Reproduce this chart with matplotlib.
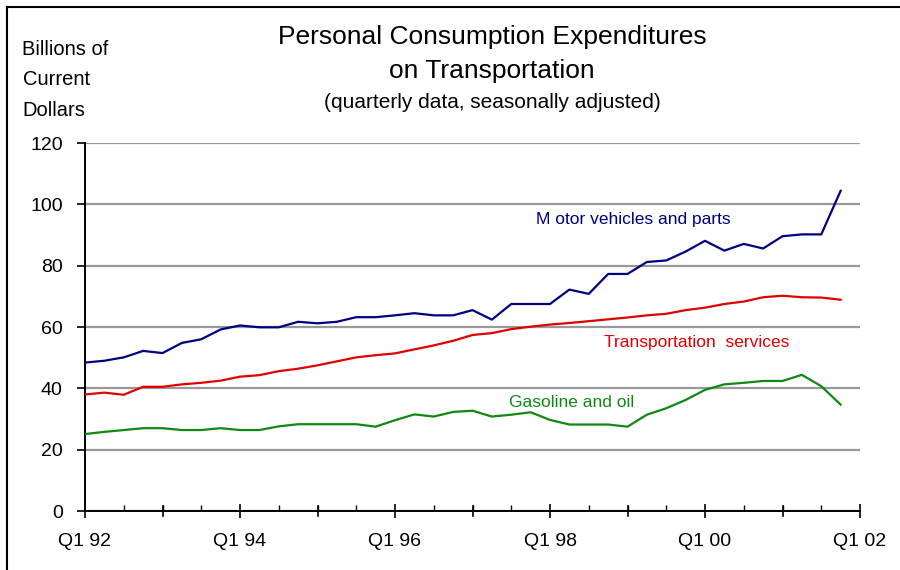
import matplotlib
matplotlib.use('Agg')
import matplotlib.pyplot as plt
from matplotlib.lines import Line2D
from matplotlib.ticker import MultipleLocator

plt.rcParams['font.family'] = ['Liberation Sans', 'DejaVu Sans']

# quarterly values, Q1 1992 through Q4 2001 (billions of current dollars)
motor_vehicles = [48.4, 49.0, 50.1, 52.2, 51.5, 54.8, 56.0, 59.2, 60.5, 59.9,
                  59.9, 61.7, 61.2, 61.7, 63.2, 63.2, 63.8, 64.5, 63.8, 63.8,
                  65.5, 62.4, 67.5, 67.5, 67.5, 72.2, 70.8, 77.3, 77.3, 81.2,
                  81.7, 84.6, 88.1, 84.9, 87.1, 85.6, 89.6, 90.2, 90.2, 104.4]
transport_services = [38.0, 38.6, 37.9, 40.5, 40.5, 41.3, 41.8, 42.5, 43.8, 44.3,
                      45.6, 46.4, 47.5, 48.8, 50.1, 50.8, 51.4, 52.7, 54.0, 55.5,
                      57.4, 58.0, 59.3, 60.1, 60.8, 61.3, 61.9, 62.5, 63.1, 63.8,
                      64.3, 65.5, 66.3, 67.5, 68.3, 69.7, 70.2, 69.7, 69.6, 68.9]
gasoline_oil = [25.1, 25.8, 26.4, 27.0, 27.0, 26.4, 26.4, 27.0, 26.4, 26.4,
                27.6, 28.3, 28.3, 28.3, 28.3, 27.5, 29.6, 31.5, 30.8, 32.3,
                32.7, 30.8, 31.4, 32.2, 29.7, 28.2, 28.2, 28.2, 27.5, 31.4,
                33.5, 36.2, 39.5, 41.3, 41.8, 42.4, 42.4, 44.4, 40.7, 34.7]
xtick_labels = ['Q1 92', 'Q1 94', 'Q1 96', 'Q1 98', 'Q1 00', 'Q1 02']

quarters = list(range(len(motor_vehicles)))

fig = plt.figure(figsize=(9, 5.7), dpi=100)
ax = fig.add_axes([85 / 900, 1 - 511 / 570, 775 / 900, 368 / 570])

ax.plot(quarters, motor_vehicles, color='#000080', lw=1.6, zorder=3)
ax.plot(quarters, transport_services, color='#e00000', lw=1.6, zorder=3)
ax.plot(quarters, gasoline_oil, color='#118811', lw=1.6, zorder=3)

ax.set_xlim(0, 40)
ax.set_ylim(0, 120)

ax.set_yticks(range(0, 121, 20))
ax.yaxis.grid(True, color='#999999', lw=1.6)
ax.set_axisbelow(True)

ax.set_xticks(range(0, 41, 8))
ax.set_xticklabels(xtick_labels)
ax.xaxis.set_minor_locator(MultipleLocator(2))

ax.tick_params(axis='y', direction='out', length=6, width=1.2,
               labelsize=14, pad=10, colors='black')
ax.tick_params(axis='x', which='major', direction='inout', length=10, width=1.2,
               labelsize=14, pad=11)
ax.tick_params(axis='x', which='minor', direction='in', length=4, width=1.0)

# every year gets a full tick, labels only on even years
for x in range(4, 40, 8):
    ax.axvline(x, ymin=-5 / 368, ymax=5 / 368, color='black', lw=1.2, clip_on=False)

for side in ('top', 'right'):
    ax.spines[side].set_visible(False)
for side in ('left', 'bottom'):
    ax.spines[side].set_linewidth(1.4)

# series labels
ax.text(23.3, 95.2, 'M otor vehicles and parts', color='#000080', fontsize=12.5,
        va='center', ha='left')
ax.text(26.8, 54.8, 'Transportation  services', color='#e00000', fontsize=12.5,
        va='center', ha='left')
ax.text(21.9, 35.5, 'Gasoline and oil', color='#118811', fontsize=12.5,
        va='center', ha='left')

# titles
fig.text(0.547, 0.935, 'Personal Consumption Expenditures', fontsize=19,
         ha='center', va='center')
fig.text(0.547, 0.875, 'on Transportation', fontsize=19, ha='center', va='center')
fig.text(0.547, 0.821, '(quarterly data, seasonally adjusted)', fontsize=15,
         ha='center', va='center')

for y, line in zip([0.914, 0.860, 0.806], ['Billions of', 'Current', 'Dollars']):
    fig.text(0.025, y, line, fontsize=14.5, ha='left', va='center')

# frame along top and left edges
fig.add_artist(Line2D([7 / 900, 7 / 900], [0, 1 - 7 / 570], color='black', lw=1.5))
fig.add_artist(Line2D([7 / 900, 1], [1 - 7 / 570, 1 - 7 / 570], color='black', lw=1.5))

fig.savefig('out.png', dpi=100)
